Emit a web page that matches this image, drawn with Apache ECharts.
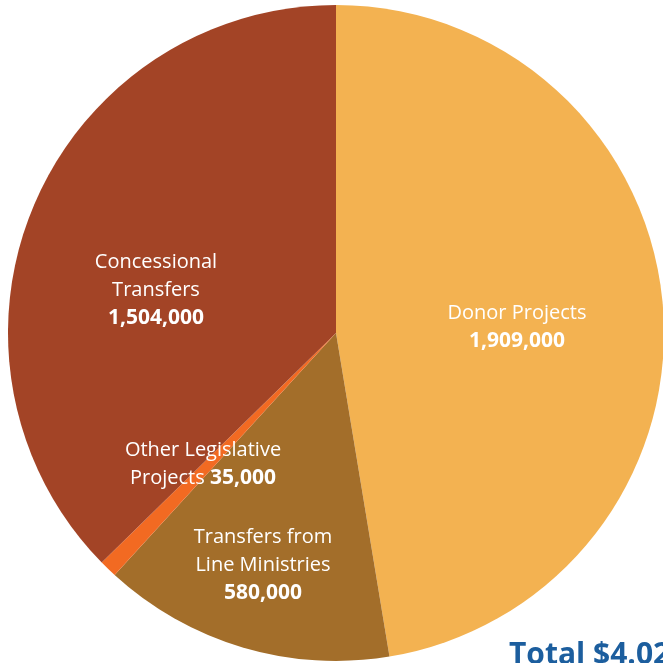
<!DOCTYPE html>
<html><head><meta charset="utf-8">
<script src="https://cdn.jsdelivr.net/npm/echarts@6/dist/echarts.min.js"></script>
<style>html,body{margin:0;padding:0;background:#fff}#c{width:663px;height:663px}</style>
</head><body><div id="c"></div>
<script>
const categories = ['Donor Projects', 'Transfers from\nLine Ministries', 'Other Legislative\nProjects', 'Concessional\nTransfers'];
const values = [1909000, 580000, 35000, 1504000];
const valueLabels = ['1,909,000', '580,000', '35,000', '1,504,000'];
const totalLabel = 'Total $4.028 million';

const colors = ['#F3B251', '#A36E2A', '#F26A22', '#A34426'];
const labelCenters = [[517, 327], [263, 565], [203, 464], [156, 290]];
const inlineValue = [false, false, true, false];

const chart = echarts.init(document.getElementById('c'));
chart.setOption({
  animation: false,
  series: [{
    type: 'pie',
    center: [336, 333],
    radius: [0, 328],
    startAngle: 90,
    clockwise: true,
    avoidLabelOverlap: false,
    emphasis: {disabled: true},
    data: categories.map((c, i) => ({name: c, value: values[i], itemStyle: {color: colors[i]}})),
    label: {
      show: true,
      position: 'inside',
      fontFamily: 'Open Sans',
      fontSize: 20,
      color: '#fff',
      align: 'center',
      formatter: p => {
        const i = p.dataIndex;
        return inlineValue[i]
          ? '{n|' + categories[i] + ' }{b|' + valueLabels[i] + '}'
          : '{n|' + categories[i] + '}\n{b|' + valueLabels[i] + '}';
      },
      rich: {
        n: {fontFamily: 'Open Sans', fontSize: 20, color: '#fff', lineHeight: 28},
        b: {fontFamily: 'Open Sans', fontSize: 21, fontWeight: 'bold', color: '#fff', lineHeight: 28}
      }
    },
    labelLine: {show: false},
    labelLayout: p => ({x: labelCenters[p.dataIndex][0], y: labelCenters[p.dataIndex][1], align: 'center', verticalAlign: 'middle'})
  }],
  graphic: [{
    type: 'text', left: 509, top: 640,
    style: {text: totalLabel, fontFamily: 'Open Sans', fontSize: 30, fontWeight: 'bold', fill: '#1C5E9E'}
  }]
});
</script></body></html>
